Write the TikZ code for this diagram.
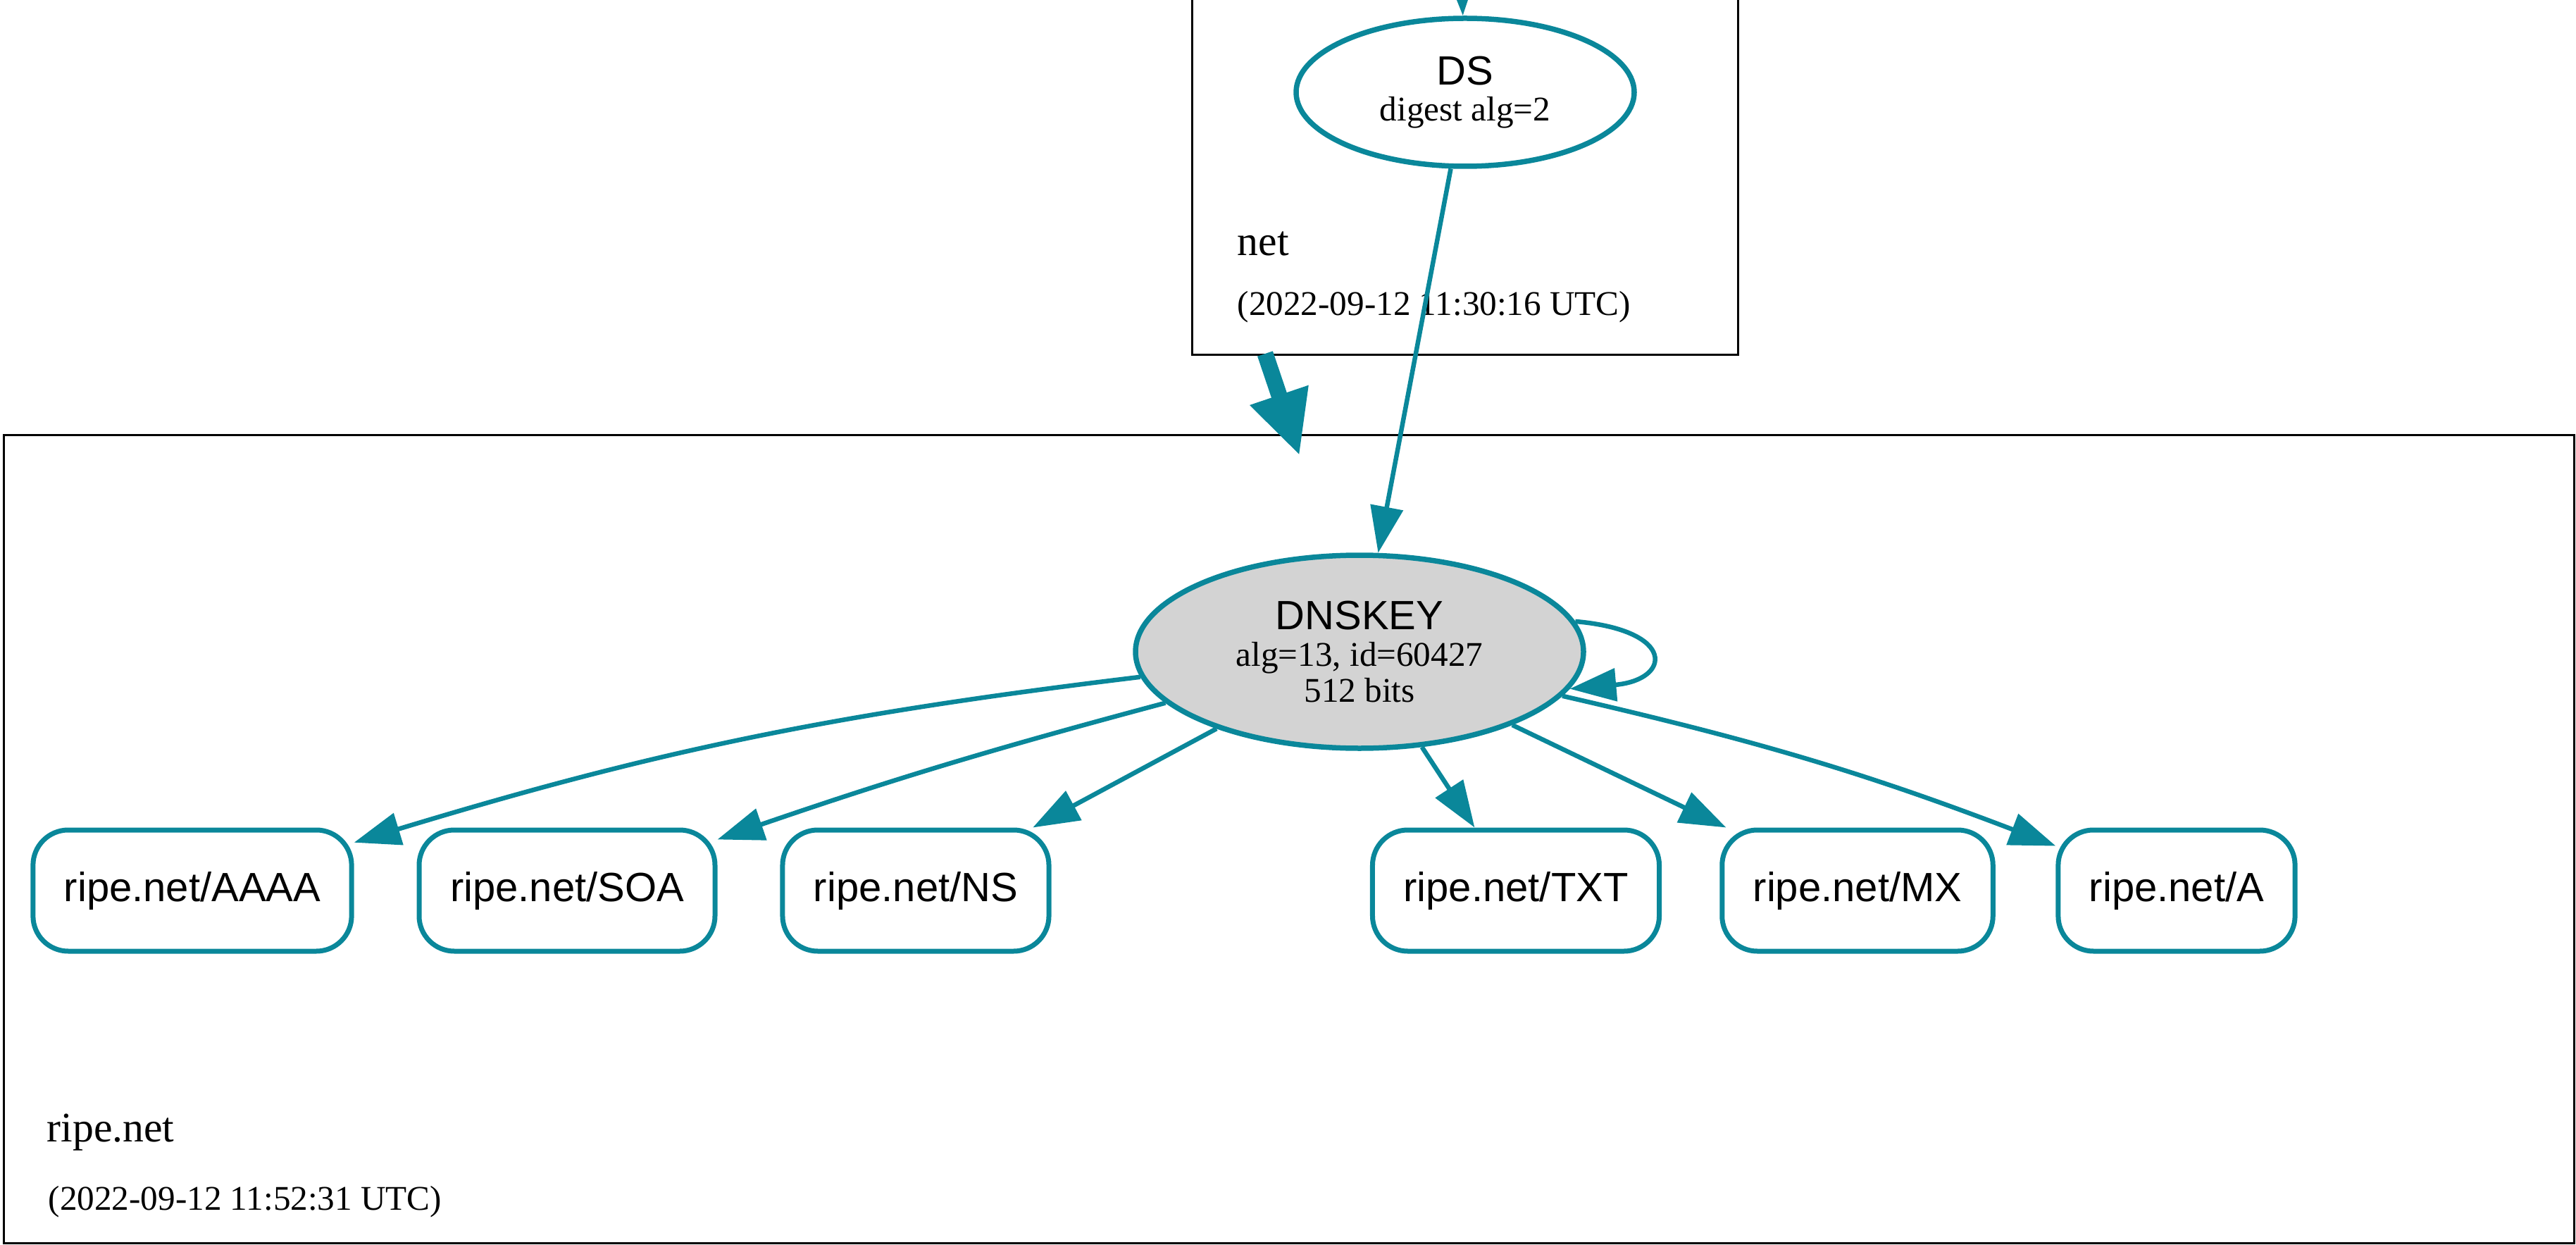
\documentclass[tikz,border=0pt]{standalone}
\usepackage{fontspec}
\setmainfont{Liberation Serif}
\newfontfamily\helvfont{Liberation Sans}
\usetikzlibrary{arrows.meta,shapes.geometric}

\definecolor{secure}{HTML}{0A879A}
\definecolor{keyfill}{HTML}{D3D3D3}

\newcommand{\rrfont}{\helvfont\fontsize{16.5}{18}\selectfont}
\newcommand{\subfont}{\fontsize{14}{14.6}\selectfont}
\newcommand{\zonefont}{\fontsize{17}{19}\selectfont}
\newcommand{\datefont}{\fontsize{14}{16}\selectfont}

\tikzset{
    sig/.style={secure, line width=0.065cm, -{Triangle[length=0.66cm, width=0.46cm]}},
    keynode/.style={ellipse, draw=secure, line width=0.075cm, inner sep=0pt, align=center, font=\subfont},
    rrset/.style={draw=secure, line width=0.07cm, rounded corners=0.5cm, minimum height=1.72cm, inner xsep=0.44cm, font=\rrfont},
    zonelabel/.style={anchor=base west, inner sep=0pt, font=\zonefont},
    datelabel/.style={anchor=base west, inner sep=0pt, font=\datefont},
}

\begin{document}
\begin{tikzpicture}
    \useasboundingbox (0,0) rectangle (36.57,-17.67);
    \clip (0,0) rectangle (36.57,-17.67);

    % net zone
    \draw[line width=0.03cm] (16.92,0.5) rectangle (24.67,-5.04);
    \node[keynode, minimum width=4.80cm, minimum height=2.10cm] (ds) at (20.80,-1.31) {{\rrfont DS}\\digest alg=2};
    \node[zonelabel] (netname) at (17.56,-3.63) {net};
    \node[datelabel] (netdate) at (17.56,-4.48) {(2022-09-12 11:30:16 UTC)};

    % ripe.net zone
    \draw[line width=0.03cm] (0.05,-6.18) rectangle (36.54,-17.64);
    \node[keynode, fill=keyfill, minimum width=6.36cm, minimum height=2.74cm] (dnskey) at (19.30,-9.25) {{\rrfont DNSKEY}\\alg=13, id=60427\\512 bits};
    \node[zonelabel] (ripename) at (0.66,-16.20) {ripe.net};
    \node[datelabel] (ripedate) at (0.68,-17.17) {(2022-09-12 11:52:31 UTC)};

    % rrsets
    \node[rrset] (aaaa) at (2.73,-12.64) {ripe.net/AAAA};
    \node[rrset] (soa) at (8.05,-12.64) {ripe.net/SOA};
    \node[rrset] (ns) at (13.00,-12.64) {ripe.net/NS};
    \node[rrset] (txt) at (21.52,-12.64) {ripe.net/TXT};
    \node[rrset] (mx) at (26.37,-12.64) {ripe.net/MX};
    \node[rrset] (arec) at (30.90,-12.64) {ripe.net/A};

    % delegation
    \coordinate (deltail) at (17.96,-5.02);
    \coordinate (delhead) at (18.45,-6.47);
    \draw[secure, line width=0.23cm, -{Triangle[length=0.91cm, width=0.81cm]}] (deltail) -- (delhead);

    % signatures
    \coordinate (parent) at (20.73,1.0);
    \draw[sig] (parent) -- (ds);
    \draw[sig] (ds) -- (dnskey);
    \draw[sig] (dnskey.8) to[out=-5, in=5, distance=1.45cm] (dnskey.-10);
    \draw[sig] (dnskey) to[bend right=5] (aaaa);
    \draw[sig] (dnskey) to[bend right=2] (soa);
    \draw[sig] (dnskey) -- (ns);
    \draw[sig] (dnskey) -- (txt);
    \draw[sig] (dnskey) -- (mx);
    \draw[sig] (dnskey) to[bend left=4] (arec);
\end{tikzpicture}
\end{document}
